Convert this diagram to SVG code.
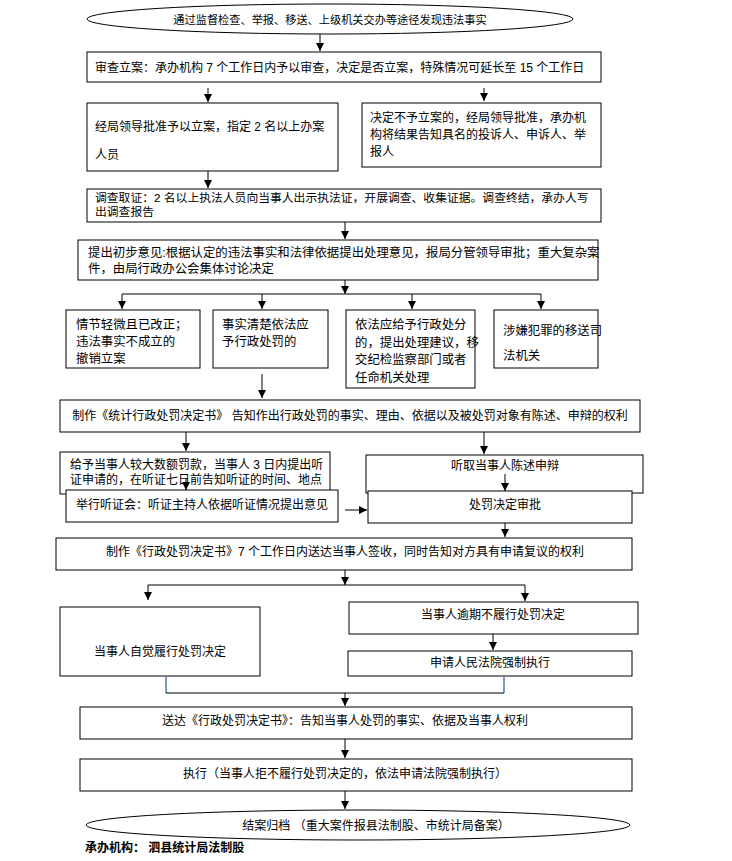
<svg xmlns="http://www.w3.org/2000/svg" width="732" height="861" viewBox="0 0 732 861">
<style>
.b{fill:#fff;stroke:#000;stroke-width:1}
.t{font-family:"Liberation Sans","Noto Sans CJK SC",sans-serif;font-size:12px;fill:#000}
.m{text-anchor:middle}
.c{stroke:#000;stroke-width:1;fill:none}
.bl{stroke:#7a9cc6;stroke-width:2;fill:none}
</style>
<defs>
<marker id="ah" markerWidth="8" markerHeight="8" refX="8" refY="4" orient="auto" markerUnits="userSpaceOnUse">
<path d="M0,0 L8,4 L0,8 z" fill="#000"/>
</marker>
</defs>
<rect width="732" height="861" fill="#fff"/>

<g id="connectors">
<line class="c" x1="320" y1="34" x2="320" y2="51" marker-end="url(#ah)"/>
<line class="c" x1="208" y1="88" x2="208" y2="102" marker-end="url(#ah)"/>
<line class="c" x1="484" y1="88" x2="484" y2="101" marker-end="url(#ah)"/>
<line class="c" x1="208" y1="171" x2="208" y2="188" marker-end="url(#ah)"/>
<line class="c" x1="345" y1="222" x2="345" y2="239" marker-end="url(#ah)"/>
<line class="c" x1="345" y1="280" x2="345" y2="294" marker-end="url(#ah)"/>
<line class="c" x1="122" y1="294" x2="541" y2="294"/>
<line class="c" x1="122" y1="294" x2="122" y2="309" marker-end="url(#ah)"/>
<line class="c" x1="262" y1="294" x2="262" y2="309" marker-end="url(#ah)"/>
<line class="c" x1="412" y1="294" x2="412" y2="309" marker-end="url(#ah)"/>
<line class="c" x1="541" y1="294" x2="541" y2="309" marker-end="url(#ah)"/>
<line class="c" x1="262" y1="374" x2="262" y2="398" marker-end="url(#ah)"/>
<line class="c" x1="186" y1="432" x2="186" y2="451" marker-end="url(#ah)"/>
<line class="c" x1="484" y1="432" x2="484" y2="454" marker-end="url(#ah)"/>
<line class="c" x1="345" y1="510" x2="367" y2="510" marker-end="url(#ah)"/>
<line class="c" x1="505" y1="523" x2="505" y2="537" marker-end="url(#ah)"/>
<line class="c" x1="345" y1="570" x2="345" y2="585" marker-end="url(#ah)"/>
<line class="c" x1="148" y1="585" x2="525" y2="585"/>
<line class="c" x1="148" y1="585" x2="148" y2="600" marker-end="url(#ah)"/>
<line class="c" x1="525" y1="585" x2="525" y2="601" marker-end="url(#ah)"/>
<line class="c" x1="493" y1="634" x2="493" y2="650" marker-end="url(#ah)"/>
<line class="bl" x1="166" y1="677" x2="166" y2="693"/>
<line class="bl" x1="504" y1="677" x2="504" y2="693"/>
<line class="c" x1="166" y1="693" x2="504" y2="693"/>
<line class="c" x1="345" y1="693" x2="345" y2="706" marker-end="url(#ah)"/>
<line class="c" x1="345" y1="739" x2="345" y2="758" marker-end="url(#ah)"/>
<line class="c" x1="345" y1="791" x2="345" y2="809" marker-end="url(#ah)"/>
</g>

<g id="start">
<ellipse class="b" cx="330" cy="19" rx="243" ry="15"/>
<text class="t m" x="330" y="23.5" style="font-size:11.2px">通过监督检查、举报、移送、上级机关交办等途径发现违法事实</text>
</g>

<g id="review">
<rect class="b" x="87" y="52" width="514" height="30"/>
<text class="t" x="95" y="72">审查立案：承办机构 7 个工作日内予以审查，决定是否立案，特殊情况可延长至 15 个工作日</text>
</g>

<g id="approve">
<rect class="b" x="87" y="103" width="251" height="68"/>
<text class="t" x="95" y="131">经局领导批准予以立案，指定 2 名以上办案</text>
<text class="t" x="95" y="159">人员</text>
</g>

<g id="reject">
<rect class="b" x="362" y="103" width="239" height="64"/>
<text class="t" x="370" y="122">决定不予立案的，经局领导批准，承办机</text>
<text class="t" x="370" y="139">构将结果告知具名的投诉人、申诉人、举</text>
<text class="t" x="370" y="156">报人</text>
</g>

<g id="investigate">
<rect class="b" x="87" y="189" width="514" height="33"/>
<text class="t" x="95" y="202" style="font-size:11.8px">调查取证：2 名以上执法人员向当事人出示执法证，开展调查、收集证据。调查终结，承办人写</text>
<text class="t" x="95" y="216" style="font-size:11.8px">出调查报告</text>
</g>

<g id="opinion">
<rect class="b" x="78" y="240" width="520" height="40"/>
<text class="t" x="88" y="257" style="font-size:12.4px">提出初步意见:根据认定的违法事实和法律依据提出处理意见，报局分管领导审批；重大复杂案</text>
<text class="t" x="88" y="273" style="font-size:12.4px">件，由局行政办公会集体讨论决定</text>
</g>

<g id="revoke">
<rect class="b" x="66" y="310" width="134" height="58"/>
<text class="t" x="76" y="329" style="font-size:12.4px">情节轻微且已改正；</text>
<text class="t" x="76" y="346" style="font-size:12.4px">违法事实不成立的</text>
<text class="t" x="76" y="363" style="font-size:12.4px">撤销立案</text>
</g>

<g id="punish">
<rect class="b" x="213" y="310" width="115" height="58"/>
<text class="t" x="222" y="329" style="font-size:12.4px">事实清楚依法应</text>
<text class="t" x="222" y="346" style="font-size:12.4px">予行政处罚的</text>
</g>

<g id="sanction">
<rect class="b" x="346" y="310" width="129" height="78"/>
<text class="t" x="355" y="329" style="font-size:12.4px">依法应给予行政处分</text>
<text class="t" x="355" y="347" style="font-size:12.4px">的，提出处理建议，移</text>
<text class="t" x="355" y="364" style="font-size:12.4px">交纪检监察部门或者</text>
<text class="t" x="355" y="382" style="font-size:12.4px">任命机关处理</text>
</g>

<g id="judicial">
<rect class="b" x="494" y="310" width="104" height="58"/>
<text class="t" x="503" y="335" style="font-size:12.4px">涉嫌犯罪的移送司</text>
<text class="t" x="503" y="360" style="font-size:12.4px">法机关</text>
</g>

<g id="notice">
<rect class="b" x="60" y="400" width="580" height="32"/>
<text class="t m" x="350" y="420">制作《统计行政处罚决定书》 告知作出行政处罚的事实、理由、依据以及被处罚对象有陈述、申辩的权利</text>
</g>

<g id="hearing-notice">
<rect class="b" x="60" y="452" width="270" height="42"/>
<text class="t" x="70" y="469">给予当事人较大数额罚款，当事人 3 日内提出听</text>
<text class="t" x="70" y="484">证申请的，在听证七日前告知听证的时间、地点</text>
</g>

<g id="statement">
<rect class="b" x="366" y="455" width="277" height="38"/>
<text class="t m" x="505" y="470">听取当事人陈述申辩</text>
</g>

<line class="c" x1="186" y1="478" x2="186" y2="490" marker-end="url(#ah)"/>
<line class="c" x1="505" y1="474" x2="505" y2="491" marker-end="url(#ah)"/>

<g id="hearing">
<rect class="b" x="66" y="490" width="272" height="32"/>
<text class="t" x="76" y="509">举行听证会：听证主持人依据听证情况提出意见</text>
</g>

<g id="approval">
<rect class="b" x="368" y="491" width="264" height="32"/>
<text class="t m" x="505" y="509">处罚决定审批</text>
</g>

<g id="decision">
<rect class="b" x="56" y="538" width="576" height="32"/>
<text class="t m" x="345" y="556">制作《行政处罚决定书》7 个工作日内送达当事人签收，同时告知对方具有申请复议的权利</text>
</g>

<g id="comply">
<rect class="b" x="60" y="607" width="200" height="69"/>
<text class="t m" x="160" y="656">当事人自觉履行处罚决定</text>
</g>

<g id="overdue">
<rect class="b" x="349" y="602" width="289" height="32"/>
<text class="t m" x="493" y="619">当事人逾期不履行处罚决定</text>
</g>

<g id="court">
<rect class="b" x="348" y="651" width="284" height="25"/>
<text class="t m" x="490" y="667">申请人民法院强制执行</text>
</g>

<g id="deliver">
<rect class="b" x="80" y="707" width="552" height="32"/>
<text class="t m" x="345" y="725">送达《行政处罚决定书》：告知当事人处罚的事实、依据及当事人权利</text>
</g>

<g id="execute">
<rect class="b" x="80" y="759" width="552" height="32"/>
<text class="t m" x="345" y="778">执行（当事人拒不履行处罚决定的，依法申请法院强制执行）</text>
</g>

<g id="end">
<ellipse class="b" cx="358" cy="825" rx="272" ry="15"/>
<text class="t m" x="376" y="829.5">结案归档 （重大案件报县法制股、市统计局备案）</text>
</g>

<text class="t" x="85" y="852" style="font-weight:bold">承办机构：  泗县统计局法制股</text>
</svg>
